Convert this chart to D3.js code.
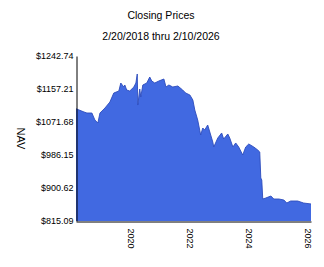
<!DOCTYPE html>
<html>
<head>
<meta charset="utf-8">
<script src="https://cdn.jsdelivr.net/npm/d3@7"></script>
<style>
  body { margin: 0; background: #fff; }
  text { font-family: Arial, "Liberation Sans", sans-serif; fill: #000; }
</style>
</head>
<body>
<div id="chart"></div>
<script>
// data
const dates = ["2018-02-20","2018-05-30","2018-07-05","2018-09-05","2018-10-12","2018-11-18","2018-12-14",
  "2019-02-14","2019-04-16","2019-06-03","2019-08-05","2019-08-29","2019-10-05","2019-10-18","2019-11-10",
  "2019-12-18","2020-02-07","2020-03-03","2020-03-20","2020-03-27","2020-04-20","2020-05-03","2020-05-28",
  "2020-07-16","2020-08-22","2020-09-16","2020-10-23","2020-12-12","2021-02-13","2021-03-11","2021-04-16",
  "2021-06-03","2021-08-05","2021-10-04","2021-11-10","2022-01-01","2022-02-07","2022-03-03","2022-04-08",
  "2022-05-15","2022-06-10","2022-07-04","2022-08-10","2022-09-05","2022-10-12","2022-10-24","2022-12-13",
  "2023-01-30","2023-02-24","2023-04-16","2023-05-10","2023-06-18","2023-07-23","2023-08-29","2023-10-18",
  "2023-11-24","2024-01-01","2024-03-03","2024-04-21","2024-05-16","2024-05-29","2024-06-10","2024-06-22",
  "2024-07-30","2024-10-01","2024-11-06","2025-01-08","2025-03-11","2025-04-16","2025-06-03","2025-08-29",
  "2025-11-10","2026-02-10"];
const navValues = [1106.0,1097.6,1095.0,1095.0,1076.9,1069.1,1095.0,
  1108.0,1123.5,1146.8,1152.0,1172.7,1162.4,1167.6,1154.6,
  1152.0,1162.4,1172.7,1196.1,1115.7,1157.2,1136.5,1167.6,
  1172.7,1188.3,1177.9,1172.7,1177.9,1183.1,1162.4,1167.6,
  1162.4,1165.0,1154.6,1146.8,1141.7,1128.7,1102.8,1076.9,
  1038.0,1056.1,1050.9,1063.9,1045.8,1019.8,1006.9,1030.2,
  1043.2,1027.6,1040.6,1030.2,1006.9,1017.3,1006.9,986.2,
  1006.9,1014.7,1006.9,999.1,993.9,926.5,921.4,872.1,
  874.7,879.9,872.1,872.1,869.5,861.7,866.9,866.9,
  861.7,859.2];
const yTicks = [815.09, 900.62, 986.15, 1071.68, 1157.21, 1242.74];
const xTickYears = [2020, 2022, 2024, 2026];
const title = "Closing Prices";
const subtitle = "2/20/2018 thru 2/10/2026";
const yLabel = "NAV";

const width = 324, height = 267;
const margin = {top: 56, right: 13, bottom: 46, left: 76};
const innerW = width - margin.left - margin.right;
const innerH = height - margin.top - margin.bottom;

const parse = d3.timeParse("%Y-%m-%d");
const data = dates.map((d, i) => ({date: parse(d), value: navValues[i]}));

const svg = d3.select("#chart").append("svg")
    .attr("width", width)
    .attr("height", height);

// titles
svg.append("text")
    .attr("x", 161).attr("y", 19)
    .attr("text-anchor", "middle")
    .style("font-size", "10.5px")
    .text(title);
svg.append("text")
    .attr("x", 161).attr("y", 40)
    .attr("text-anchor", "middle")
    .style("font-size", "10.5px")
    .text(subtitle);

const g = svg.append("g")
    .attr("transform", `translate(${margin.left}, ${margin.top})`);

const x = d3.scaleTime()
    .domain([parse(dates[0]), parse(dates[dates.length - 1])])
    .range([0, innerW]);
const y = d3.scaleLinear()
    .domain([yTicks[0], yTicks[yTicks.length - 1]])
    .range([innerH, 0]);

// area + edge line
const area = d3.area()
    .x(d => x(d.date))
    .y0(innerH)
    .y1(d => y(d.value));
const line = d3.line()
    .x(d => x(d.date))
    .y(d => y(d.value));

g.append("path")
    .datum(data)
    .attr("d", area)
    .attr("fill", "#4169e1");
g.append("path")
    .datum(data)
    .attr("d", line)
    .attr("fill", "none")
    .attr("stroke", "#2d4cbc")
    .attr("stroke-width", 0.9);

// y axis
const yAxis = g.append("g")
    .attr("transform", "translate(0.5,0)")
    .call(d3.axisLeft(y).tickValues(yTicks).tickSize(0).tickPadding(3)
        .tickFormat(d => "$" + d.toFixed(2)));
yAxis.select(".domain").attr("stroke", "#000");
yAxis.selectAll("text").style("font-size", "9px").attr("font-family", null);

// x axis
const xAxis = g.append("g")
    .attr("transform", `translate(0, ${innerH + 0.5})`)
    .call(d3.axisBottom(x).tickValues(xTickYears.map(yr => new Date(yr, 0, 1)))
        .tickSize(0).tickFormat(d3.timeFormat("%Y")));
xAxis.select(".domain").attr("stroke", "#000");
xAxis.selectAll("text")
    .style("font-size", "9px")
    .attr("font-family", null)
    .attr("text-anchor", "start")
    .attr("dy", null)
    .attr("y", 0)
    .attr("transform", "translate(-3.5, 7) rotate(90)");

// y label
svg.append("text")
    .attr("transform", `translate(17, ${margin.top + innerH / 2}) rotate(90)`)
    .attr("text-anchor", "middle")
    .style("font-size", "11px")
    .text(yLabel);
</script>
</body>
</html>
